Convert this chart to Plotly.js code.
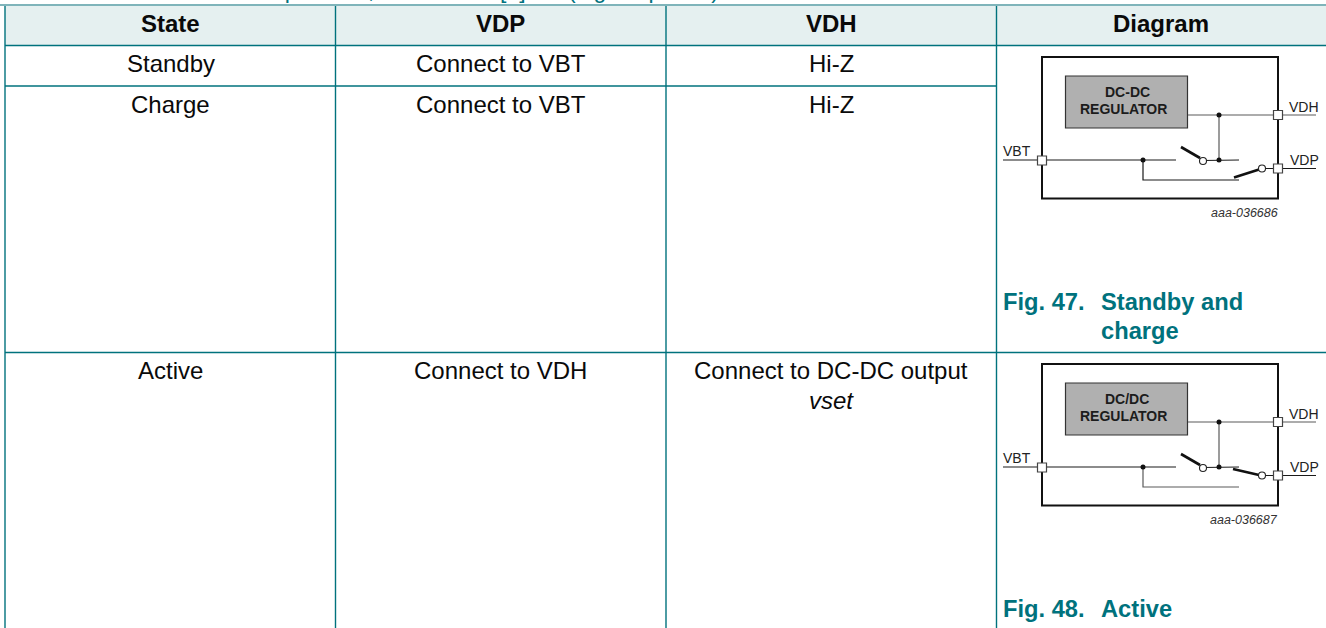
<!DOCTYPE html>
<html><head><meta charset="utf-8">
<script src="https://cdn.plot.ly/plotly-3.0.0.min.js"></script>
<style>html,body{margin:0;padding:0;background:#fff;overflow:hidden}#c{width:1326px;height:628px}</style>
</head><body><div id="c"></div>
<script>
const columns = ["State", "VDP", "VDH", "Diagram"];
const states = ["Standby", "Charge", "Active"];
const vdpValues = ["Connect to VBT", "Connect to VBT", "Connect to VDH"];
const vdhValues = ["Hi-Z", "Hi-Z", "Connect to DC-DC output"];
const vdhNote = "vset";
const figureLabels = ["Fig. 47.", "Fig. 48."];
const figureTitles = ["Standby and", "Active"];
const figureTitleSecondLine = "charge";
const regulatorTop = ["DC-DC", "DC/DC"];
const regulatorBottom = "REGULATOR";
const drawingIds = ["aaa-036686", "aaa-036687"];
const pinNames = ["VBT", "VDH", "VDP"];
const captionParts = ["VDH and VDP operation,", "[1]", "(high-V power)"];

const TEAL = "#00727d", FONT = "'Liberation Sans', Arial, sans-serif";
const colCentre = [170.5, 500.5, 831, 1161];
const rowCentre = [63.5, 104.5, 370.5];
const ann = [];
function txt(text, x, y, o = {}) {
  ann.push({text, x, y, xref: "x", yref: "y", showarrow: false,
    xanchor: o.xa || "center", yanchor: o.ya || "middle", align: o.align || "center",
    borderpad: 0, borderwidth: 0,
    font: {family: FONT, size: o.size || 24, color: o.color || "#0a0a0a"}});
}
// caption clipped by the top of the page
txt(captionParts[0], 374, 3, {xa: "right", ya: "bottom", color: TEAL, size: 23});
txt(captionParts[1], 513, 3, {ya: "bottom", color: TEAL, size: 23});
txt(captionParts[2], 568, 3, {xa: "left", ya: "bottom", color: TEAL, size: 23});
// header and body
columns.forEach((c, i) => txt("<b>" + c + "</b>", colCentre[i], 23.5));
states.forEach((s, i) => {
  txt(s, colCentre[0], rowCentre[i]);
  txt(vdpValues[i], colCentre[1], rowCentre[i]);
  txt(vdhValues[i], colCentre[2], rowCentre[i]);
});
txt("<i>" + vdhNote + "</i>", colCentre[2], 400.5);
// figure captions
const figY = [302, 609];
figureLabels.forEach((f, i) => {
  txt("<b>" + f + "</b>", 1003, figY[i], {xa: "left", color: TEAL, size: 23.7});
  txt("<b>" + figureTitles[i] + "</b>", 1101, figY[i], {xa: "left", color: TEAL, size: 23.7});
});
txt("<b>" + figureTitleSecondLine + "</b>", 1101, 330.5, {xa: "left", color: TEAL, size: 23.7});

const shapes = [];
function rect(x0, y0, x1, y1, fill, lc, lw) {
  shapes.push({type: "rect", xref: "x", yref: "y", x0, y0, x1, y1, fillcolor: fill, layer: "below",
    line: {color: lc || fill, width: lw || 0}});
}
function seg(x0, y0, x1, y1, c, w) {
  shapes.push({type: "line", xref: "x", yref: "y", x0, y0, x1, y1, layer: "below", line: {color: c, width: w}});
}
// table
rect(5, 6, 1326, 45, "#e5f0f0");
seg(0, 5, 1326, 5, "#7fb4ba", 2);
seg(5, 45.5, 1326, 45.5, TEAL, 1.4);
seg(5, 86, 996, 86, TEAL, 1.4);
seg(5, 352.5, 1326, 352.5, TEAL, 1.4);
[5, 335.5, 666, 996.5].forEach(x => seg(x, 6, x, 628, TEAL, 1.4));

// diagrams
const traces = [];
const offsets = [0, 307];
const wireX = [], wireY = [], greyX = [], greyY = [], swX = [], swY = [];
const dotX = [], dotY = [], pinX = [], pinY = [], ringX = [], ringY = [];
function add(ax, ay, pts, d) { pts.forEach(p => { ax.push(p[0]); ay.push(p[1] + d); }); ax.push(null); ay.push(null); }
offsets.forEach((d, i) => {
  rect(1042, 57 + d, 1278, 198.5 + d, "#ffffff", "#111", 2);
  rect(1065.5, 76 + d, 1187.5, 128 + d, "#b0b0b0", "#333", 1.2);
  const active = i === 1;
  add(greyX, greyY, [[1188, 115], [1316, 115]], d);
  add(greyX, greyY, [[1219, 115], [1219, 160]], d);
  add(wireX, wireY, [[1003, 160], [1176, 160]], d);
  add(wireX, wireY, [[1203, 160.5], [1239, 160]], d);
  add(active ? greyX : wireX, active ? greyY : wireY, [[1143, 160], [1143, 180], [1239, 180]], d);
  add(wireX, wireY, [[1262, 168.5], [1316, 168.5]], d);
  add(swX, swY, [[1181, 147], [1200, 158]], d);
  if (active) add(swX, swY, [[1233, 162], [1259, 168]], d);
  else add(swX, swY, [[1234, 177.5], [1259, 169.5]], d);
  [[1143, 160], [1219, 115], [1219, 160]].forEach(p => { dotX.push(p[0]); dotY.push(p[1] + d); });
  [[1042, 160.5], [1278, 115], [1278, 168.5]].forEach(p => { pinX.push(p[0]); pinY.push(p[1] + d); });
  [[1203, 161], [1262, 168.5]].forEach(p => { ringX.push(p[0]); ringY.push(p[1] + d); });
  txt("<b>" + regulatorTop[i] + "</b>", 1127, 91.5 + d, {size: 14, color: "#1c1c1c"});
  txt("<b>" + regulatorBottom + "</b>", 1123, 109 + d, {size: 14, color: "#1c1c1c"});
  txt(pinNames[0], 1017, 151 + d, {size: 14, color: "#222"});
  txt(pinNames[1], 1304, 107 + d, {size: 14, color: "#222"});
  txt(pinNames[2], 1304, 160 + d, {size: 14, color: "#222"});
  txt("<i>" + drawingIds[i] + "</i>", 1278, 213 + d, {xa: "right", size: 12.5, color: "#333"});
});
const hidden = {hoverinfo: "skip", showlegend: false, type: "scatter"};
traces.push({...hidden, x: greyX, y: greyY, mode: "lines", line: {color: "#5a5a5a", width: 1.2}});
traces.push({...hidden, x: wireX, y: wireY, mode: "lines", line: {color: "#1a1a1a", width: 1.2}});
traces.push({...hidden, x: swX, y: swY, mode: "lines", line: {color: "#111", width: 2.6}});
traces.push({...hidden, x: dotX, y: dotY, mode: "markers", marker: {color: "#111", size: 5}});
traces.push({...hidden, x: pinX, y: pinY, mode: "markers", marker: {symbol: "square", color: "#fff", size: 9, line: {color: "#444", width: 1.2}}});
traces.push({...hidden, x: ringX, y: ringY, mode: "markers", marker: {color: "#fff", size: 7, line: {color: "#222", width: 1.1}}});

const hiddenAxis = {visible: false, fixedrange: true, showgrid: false, zeroline: false};
Plotly.newPlot("c", traces, {
  width: 1326, height: 628, margin: {l: 0, r: 0, t: 0, b: 0},
  paper_bgcolor: "#fff", plot_bgcolor: "#fff", showlegend: false,
  xaxis: {...hiddenAxis, range: [0, 1326]},
  yaxis: {...hiddenAxis, range: [628, 0]},
  shapes, annotations: ann
}, {displayModeBar: false, staticPlot: true});
</script></body></html>
